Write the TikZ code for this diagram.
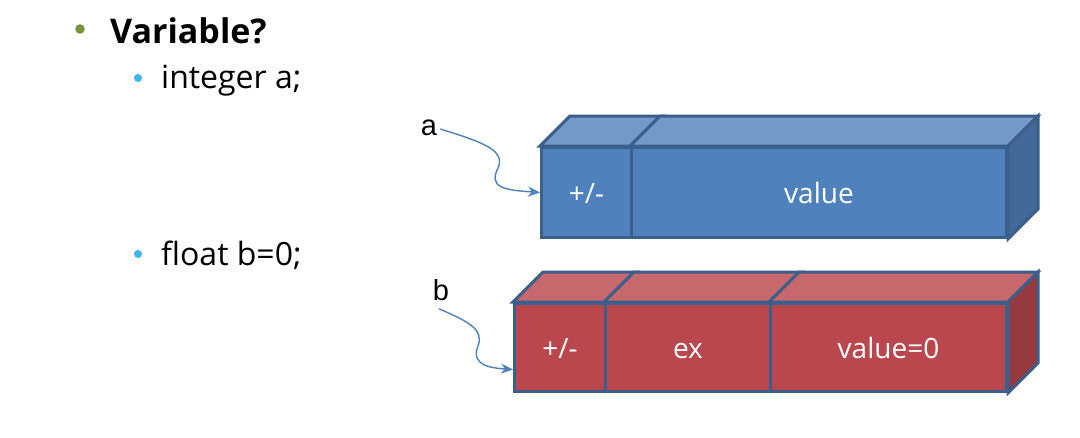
\documentclass[tikz,border=0pt]{standalone}
\usepackage{fontspec}
\setmainfont{Open Sans}
\newfontfamily\labelfont{Liberation Sans}
\usetikzlibrary{arrows.meta}
\definecolor{blueface}{HTML}{4F81BD}
\definecolor{bluetop}{HTML}{7399C9}
\definecolor{blueside}{HTML}{43699A}
\definecolor{redface}{HTML}{B9474D}
\definecolor{redtop}{HTML}{C7686C}
\definecolor{redside}{HTML}{973A3F}
\definecolor{edgeblue}{HTML}{3A5F8B}
\definecolor{bulletgreen}{HTML}{77933C}
\definecolor{bulletblue}{HTML}{3DB5EE}
\tikzset{
  cell/.style={draw=edgeblue,line width=3pt,text=white,inner sep=0pt,anchor=north west,
    minimum height=90,text height=22pt,text depth=0pt,font=\fontsize{28}{32}\selectfont},
  facet/.style={draw=edgeblue,line width=3pt,line join=miter},
  link/.style={draw=blueface,line width=1.4pt,-{Stealth[length=12pt,width=10pt]}},
  varname/.style={font=\labelfont\fontsize{29}{32}\selectfont,inner sep=1pt},
}
\begin{document}
\begin{tikzpicture}[x=1pt,y=-1pt]
\useasboundingbox (0,0) rectangle (1080,437);
% bullet text
\fill[bulletgreen] (80,29) circle (4.8);
\node[anchor=base west,inner sep=0pt,font=\bfseries\fontsize{34}{40}\selectfont] (title) at (110,43) {Variable?};
\fill[bulletblue] (138,78) circle (4);
\node[anchor=base west,inner sep=0pt,font=\fontsize{32}{38}\selectfont] (inta) at (161,88) {integer a;};
\fill[bulletblue] (138,254) circle (4);
\node[anchor=base west,inner sep=0pt,font=\fontsize{32}{38}\selectfont] (floatb) at (161,265) {float b=0;};
% integer a
\node[cell,fill=blueface,minimum width=90] (a1) at (540,146) {+/-};
\node[cell,fill=blueface,minimum width=375] (a2) at (630,146) {value};
\draw[facet,fill=bluetop] (a1.north west) -- +(30,-30) -- ([shift={(30,-30)}]a1.north east) -- (a1.north east) -- cycle;
\draw[facet,fill=bluetop] (a2.north west) -- +(30,-30) -- ([shift={(30,-30)}]a2.north east) -- (a2.north east) -- cycle;
\draw[facet,fill=blueside] (a2.north east) -- +(30,-30) -- ([shift={(30,-30)}]a2.south east) -- (a2.south east) -- cycle;
% float b
\node[cell,fill=redface,minimum width=91,minimum height=88] (b1) at (513,302) {+/-};
\node[cell,fill=redface,minimum width=165,minimum height=88] (b2) at (604,302) {ex};
\node[cell,fill=redface,minimum width=236,minimum height=88] (b3) at (769,302) {value=0};
\draw[facet,fill=redtop] (b1.north west) -- +(30,-30) -- ([shift={(30,-30)}]b1.north east) -- (b1.north east) -- cycle;
\draw[facet,fill=redtop] (b2.north west) -- +(30,-30) -- ([shift={(30,-30)}]b2.north east) -- (b2.north east) -- cycle;
\draw[facet,fill=redtop] (b3.north west) -- +(30,-30) -- ([shift={(30,-30)}]b3.north east) -- (b3.north east) -- cycle;
\draw[facet,fill=redside] (b3.north east) -- +(30,-30) -- ([shift={(30,-30)}]b3.south east) -- (b3.south east) -- cycle;
% names
\node[varname] (na) at (429,128) {a};
\node[varname] (nb) at (441,290) {b};
\draw[link] ([shift={(2,1)}]na.east) .. controls (482,142) and (506,150) .. (498,168) .. controls (488,188) and (505,190) .. (a1.west);
\draw[link] ([shift={(-2,7)}]nb.south) .. controls (470,322) and (484,330) .. (478,346) .. controls (470,366) and (492,368) .. ([yshift=-22pt]b1.west);
\end{tikzpicture}
\end{document}
